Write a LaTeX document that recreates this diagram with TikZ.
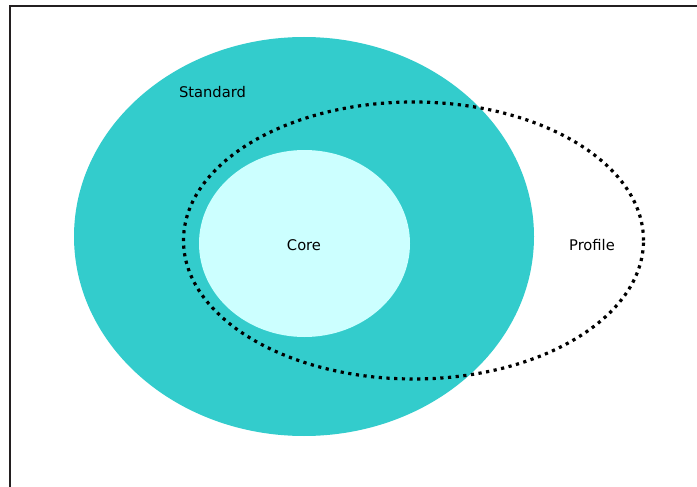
\documentclass[tikz,border=0pt]{standalone}
\usepackage{fontspec}
\setmainfont{DejaVu Sans}
\usetikzlibrary{shapes.geometric}
\definecolor{teal33}{HTML}{33CCCC}
\definecolor{corecyan}{HTML}{CCFFFF}
\definecolor{framec}{HTML}{231F20}
\tikzset{
  region/.style={ellipse, inner sep=0pt, draw=none},
  lbl/.style={font=\fontsize{14.7}{17}\selectfont, text=black, inner sep=0pt},
  dotline/.style={draw=black, line width=3.2pt, dash pattern=on 3.2pt off 4.5pt}
}
\begin{document}
\begin{tikzpicture}[x=1pt,y=-1pt]
\useasboundingbox (0,0) rectangle (697,487);
\fill[white] (0,0) rectangle (697,487);
\draw[framec, line width=2pt] (10,488) -- (10,6) -- (698,6);
\node[region, fill=teal33, minimum width=460pt, minimum height=399pt] (std) at (304,236.5) {};
\node[region, fill=corecyan, minimum width=211pt, minimum height=187pt] (core) at (304.5,243.5) {};
\node[region, dotline, minimum width=460pt, minimum height=277pt] (prof) at (413.5,240.5) {};
\node[lbl] (stdl) at (212.5,92) {Standard};
\node[lbl] (corel) at (304,245) {Core};
\node[lbl] (profl) at (592,245) {Profile};
\end{tikzpicture}
\end{document}
